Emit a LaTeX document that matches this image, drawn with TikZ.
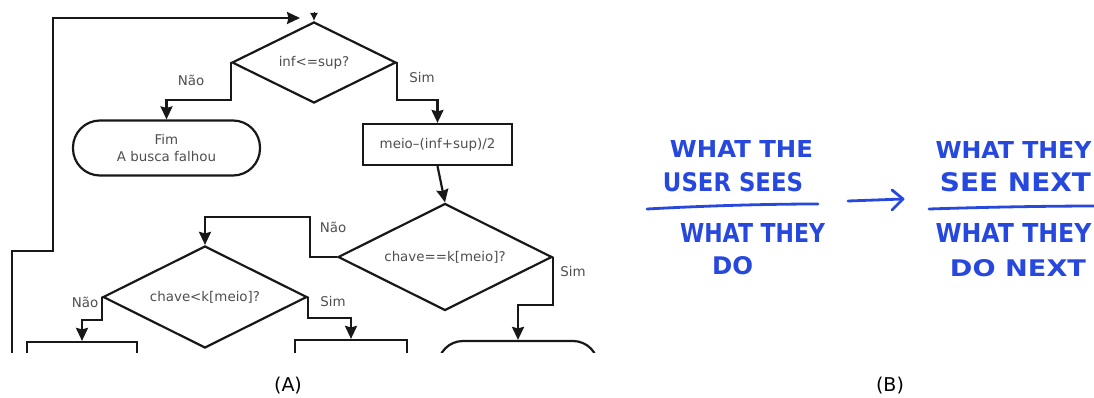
\documentclass[tikz,border=0pt]{standalone}
\usepackage{fontspec}
\usepackage{graphicx}
\setmainfont{DejaVu Sans}
\usetikzlibrary{shapes.geometric,arrows.meta,calc}

\definecolor{ink}{RGB}{24,24,24}
\definecolor{label}{RGB}{78,78,78}
\definecolor{pen}{RGB}{38,72,222}

\tikzset{
  flow/.style={draw=ink, line width=2.2pt, text=label,
    font=\fontsize{13.4}{17}\selectfont, align=center, inner sep=0pt},
  decision/.style={flow, diamond, aspect=2},
  process/.style={flow, rectangle},
  terminal/.style={flow, rectangle, rounded corners=27pt},
  arr/.style={draw=ink, line width=2.2pt,
    -{Stealth[length=13pt,width=12pt,inset=1.5pt]}},
  branch/.style={text=label, font=\fontsize{13.4}{16}\selectfont, inner sep=0pt},
  caption/.style={text=black, font=\fontsize{19}{22}\selectfont, inner sep=0pt},
  hw/.style={text=pen, inner sep=0pt, font=\bfseries},
  hwline/.style={draw=pen, line width=2.8pt, line cap=round, line join=round},
}

\begin{document}
\begin{tikzpicture}[x=1pt, y=-1pt]
\useasboundingbox (0,0) rectangle (1094,398);

% ---------- (A) flowchart of the binary search ----------
\begin{scope}
\clip (0,0) rectangle (620,352);

\node[decision, minimum width=164pt, minimum height=81pt] (d1) at (314,62.5) {inf<=sup?};
\node[terminal, minimum width=187pt, minimum height=55pt] (fim) at (166.5,148) {Fim\\A busca falhou};
\node[process, minimum width=149pt, minimum height=41pt] (meio) at (437.5,144.5) {meio–(inf+sup)/2};
\node[decision, minimum width=214pt, minimum height=107pt] (d2) at (445,257) {chave==k[meio]?};
\node[decision, minimum width=204pt, minimum height=102pt] (d3) at (205,297) {chave<k[meio]?};
\node[process, minimum width=110pt, minimum height=56pt] (b1) at (82,370) {};
\node[process, minimum width=112pt, minimum height=56pt] (b2) at (351,368) {};
\node[terminal, rounded corners=25pt, minimum width=160pt, minimum height=56pt] (b3) at (518,369) {};

% loop back to the test
\coordinate (loopin) at (12,370);
\coordinate (loopend) at (300,18);
\draw[arr] (loopin) -- (12,251) -- (53,251) -- (53,18) -- (loopend);
\draw[draw=ink, line width=1pt, -{Latex[length=8pt,width=8pt]}]
  ([yshift=9pt]d1.north) -- (d1.north);

% branches
\draw[arr] (d1.west) -- ++(0,37.5) -| (fim.north);
\draw[arr] (d1.east) -- ++(0,37.5) -| (meio.north);
\draw[arr] (meio.south) -- (d2.north);
\draw[arr] (d2.west) -- ++(-27,0) -- ++(0,-40) -| (d3.north);
\draw[arr] (d2.east) -- ++(0,48) -| (b3.north);
\draw[arr] (d3.west) -- ++(0,23) -| (b1.north);
\draw[arr] (d3.east) -- ++(0,21) -| (b2.north);

\node[branch] at (191,80) {Não};
\node[branch] at (422,78) {Sim};
\node[branch] at (333,227) {Não};
\node[branch] at (573,272) {Sim};
\node[branch] at (85,302) {Não};
\node[branch] at (333,302) {Sim};
\end{scope}

\node[caption] (capA) at (288,386) {(A)};
\node[caption] (capB) at (890,386) {(B)};

% ---------- (B) handwritten formula ----------
\begin{scope}
\clip (620,100) rectangle (1094,300);
\node[hw] (t1) at (741.5,149) {\resizebox{143pt}{17pt}{WHAT THE}};
\node[hw] (t2) at (733,182) {\resizebox{140pt}{19pt}{USER SEES}};
\draw[hwline] (647,209) .. controls (720,205) and (780,204) .. (818,204);
\node[hw] (t3) at (752.5,233) {\resizebox{145pt}{19pt}{WHAT THEY}};
\node[hw] (t4) at (732.5,266) {\resizebox{41pt}{18pt}{DO}};

\draw[hwline] (848,201) -- (903,199);
\draw[hwline] (892,190) -- (903,199) -- (892,210);

\node[hw] (r1) at (1013.5,150) {\resizebox{156pt}{17pt}{WHAT THEY}};
\node[hw] (r2) at (1015.5,182) {\resizebox{151pt}{19pt}{SEE NEXT}};
\draw[hwline] (929,209) .. controls (990,207) and (1050,206) .. (1100,206);
\node[hw] (r3) at (1013.5,233) {\resizebox{156pt}{19pt}{WHAT THEY}};
\node[hw] (r4) at (1018,268) {\resizebox{136pt}{17pt}{DO NEXT}};
\end{scope}
\end{tikzpicture}
\end{document}
